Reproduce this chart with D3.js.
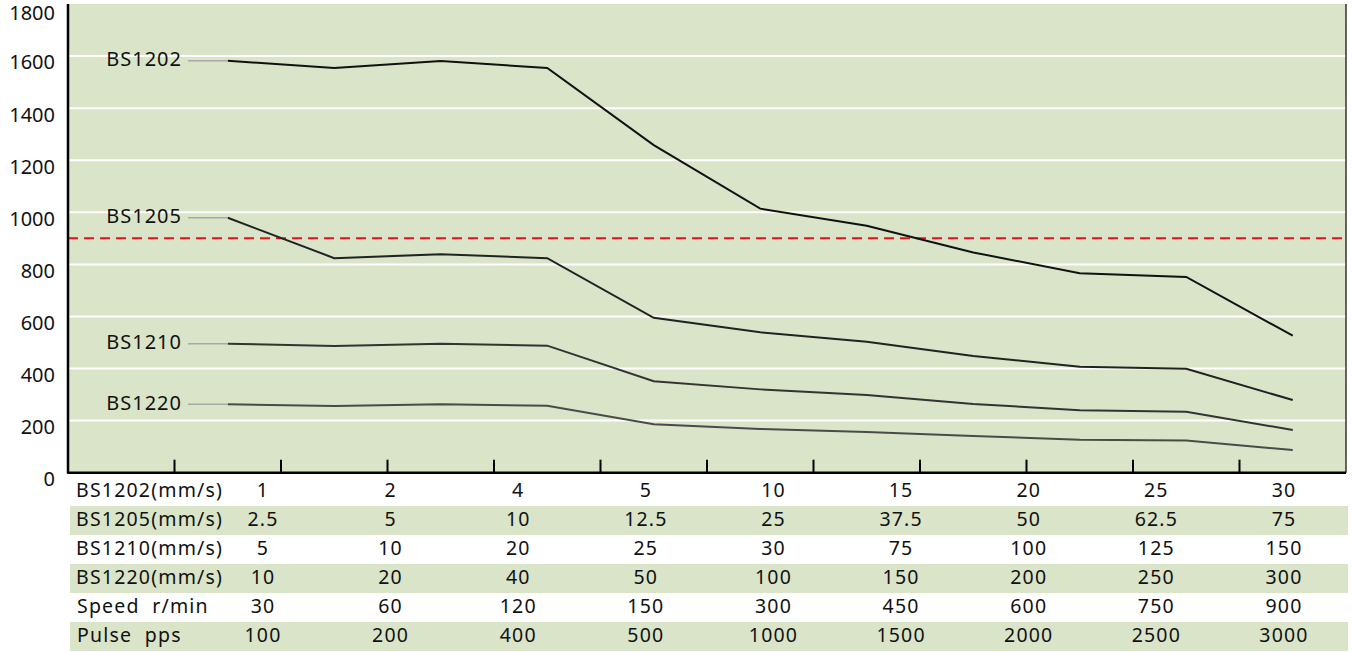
<!DOCTYPE html>
<html>
<head>
<meta charset="utf-8">
<script src="https://cdn.jsdelivr.net/npm/d3@7"></script>
<style>
  body { margin: 0; background: #fff; }
  svg { display: block; font-family: "Noto Sans", sans-serif; }
</style>
</head>
<body>
<script>
const width = 1352;
const height = 652;

// chart data (11 speed steps)
const seriesNames = ["BS1202", "BS1205", "BS1210", "BS1220"];
const bs1202 = [1582, 1554, 1581, 1554, 1258, 1014, 948, 846, 766, 752, 526];
const bs1205 = [979, 824, 839, 824, 595, 539, 503, 448, 407, 399, 279];
const bs1210 = [495, 487, 495, 488, 351, 320, 298, 264, 240, 234, 164];
const bs1220 = [263, 256, 263, 257, 186, 168, 156, 141, 127, 124, 87];
const limitValue = 900;
const yTicks = [0, 200, 400, 600, 800, 1000, 1200, 1400, 1600, 1800];

// table under the chart
const rowLabels = ["BS1202(mm/s)", "BS1205(mm/s)", "BS1210(mm/s)", "BS1220(mm/s)", "Speed  r/min", "Pulse  pps"];
const rowBS1202 = ["1", "2", "4", "5", "10", "15", "20", "25", "30"];
const rowBS1205 = ["2.5", "5", "10", "12.5", "25", "37.5", "50", "62.5", "75"];
const rowBS1210 = ["5", "10", "20", "25", "30", "75", "100", "125", "150"];
const rowBS1220 = ["10", "20", "40", "50", "100", "150", "200", "250", "300"];
const rowSpeed = ["30", "60", "120", "150", "300", "450", "600", "750", "900"];
const rowPulse = ["100", "200", "400", "500", "1000", "1500", "2000", "2500", "3000"];

const seriesValues = [bs1202, bs1205, bs1210, bs1220];
const seriesColors = ["#111", "#222", "#333", "#4a4a4a"];
const tableRows = [rowBS1202, rowBS1205, rowBS1210, rowBS1220, rowSpeed, rowPulse];

const plot = { left: 68, right: 1346, top: 4, bottom: 472.7 };

const svg = d3.select("body").append("svg")
    .attr("width", width)
    .attr("height", height);

const x = d3.scaleLinear().domain([0, 12]).range([plot.left, plot.right]);
const y = d3.scaleLinear().domain([0, 1800]).range([plot.bottom, plot.top]);

// background
svg.append("rect")
    .attr("x", plot.left)
    .attr("y", plot.top)
    .attr("width", plot.right - plot.left)
    .attr("height", plot.bottom - plot.top)
    .attr("fill", "#d9e4c9");

// grid
svg.append("g")
    .selectAll("line")
    .data(yTicks.filter(d => d > 0 && d < 1800))
    .enter().append("line")
    .attr("x1", plot.left)
    .attr("x2", plot.right)
    .attr("y1", d => y(d))
    .attr("y2", d => y(d))
    .attr("stroke", "#fff")
    .attr("stroke-width", 2);

// y labels (sit a bit below their gridline)
svg.append("g")
    .selectAll("text")
    .data(yTicks)
    .enter().append("text")
    .attr("x", 55)
    .attr("y", d => Math.max(y(d) + 8, 15))
    .attr("text-anchor", "end")
    .attr("dominant-baseline", "middle")
    .attr("font-size", 20)
    .attr("fill", "#111")
    .text(d => d);

// red limit line
svg.append("line")
    .attr("x1", plot.left)
    .attr("x2", plot.right)
    .attr("y1", y(limitValue))
    .attr("y2", y(limitValue))
    .attr("stroke", "#e8101c")
    .attr("stroke-width", 2)
    .attr("stroke-dasharray", "10,6");

// series lines
const line = d3.line()
    .x((d, i) => x(i + 1.5))
    .y(d => y(d));

svg.append("g")
    .selectAll("path")
    .data(seriesValues)
    .enter().append("path")
    .attr("d", d => line(d))
    .attr("fill", "none")
    .attr("stroke", (d, i) => seriesColors[i])
    .attr("stroke-width", 2);

// leader lines + labels
svg.append("g")
    .selectAll("line")
    .data(seriesValues)
    .enter().append("line")
    .attr("x1", 188)
    .attr("x2", x(1.5))
    .attr("y1", d => y(d[0]))
    .attr("y2", d => y(d[0]))
    .attr("stroke", "#a8a8a8")
    .attr("stroke-width", 1.5);

svg.append("g")
    .selectAll("text")
    .data(seriesValues)
    .enter().append("text")
    .attr("x", 182)
    .attr("y", d => y(d[0]))
    .attr("text-anchor", "end")
    .attr("dominant-baseline", "middle")
    .attr("font-size", 20)
    .attr("letter-spacing", 1)
    .attr("fill", "#111")
    .text((d, i) => seriesNames[i]);

// axes frame
svg.append("line")
    .attr("x1", plot.right).attr("x2", plot.right)
    .attr("y1", plot.top).attr("y2", plot.bottom)
    .attr("stroke", "#333").attr("stroke-width", 1.5);

svg.append("g")
    .selectAll("line")
    .data(d3.range(1, 12))
    .enter().append("line")
    .attr("x1", d => x(d)).attr("x2", d => x(d))
    .attr("y1", plot.bottom - 13).attr("y2", plot.bottom)
    .attr("stroke", "#000").attr("stroke-width", 2);

svg.append("line")
    .attr("x1", plot.left).attr("x2", plot.left)
    .attr("y1", plot.top).attr("y2", plot.bottom + 1)
    .attr("stroke", "#000").attr("stroke-width", 2.5);

svg.append("line")
    .attr("x1", plot.left).attr("x2", plot.right)
    .attr("y1", plot.bottom).attr("y2", plot.bottom)
    .attr("stroke", "#000").attr("stroke-width", 2.5);

// table
const rowY = d3.scaleBand().domain(d3.range(tableRows.length)).range([477, 651]);
const colX = d3.scaleLinear().domain([0, 8]).range([263, 1284]);

const rows = svg.append("g")
    .selectAll("g")
    .data(tableRows)
    .enter().append("g")
    .attr("transform", (d, i) => "translate(0," + rowY(i) + ")");

rows.filter((d, i) => i % 2 === 1)
    .append("rect")
    .attr("x", 70)
    .attr("width", 1278)
    .attr("height", rowY.bandwidth())
    .attr("fill", "#d9e4c9");

rows.append("text")
    .attr("x", (d, i) => i < 4 ? 76 : 77)
    .attr("y", rowY.bandwidth() / 2)
    .attr("dominant-baseline", "middle")
    .attr("font-size", 19.5)
    .attr("letter-spacing", 1.2)
    .attr("fill", "#111")
    .style("white-space", "pre")
    .text((d, i) => rowLabels[i]);

rows.selectAll("text.val")
    .data(d => d)
    .enter().append("text")
    .attr("class", "val")
    .attr("x", (d, i) => colX(i))
    .attr("y", rowY.bandwidth() / 2)
    .attr("text-anchor", "middle")
    .attr("dominant-baseline", "middle")
    .attr("font-size", 19.5)
    .attr("letter-spacing", 1.2)
    .attr("fill", "#111")
    .text(d => d);
</script>
</body>
</html>
